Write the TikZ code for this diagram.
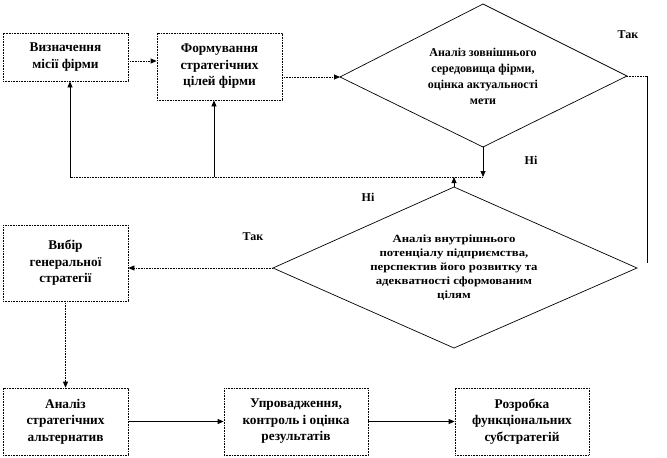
\documentclass[tikz,border=0pt]{standalone}
\usepackage{fontspec}
\setmainfont{Liberation Serif}
\newfontfamily\widefont[FakeStretch=1.16]{Liberation Serif}
\usetikzlibrary{arrows.meta}
\begin{document}
\begin{tikzpicture}[x=1pt,y=-1pt,
  box/.style={draw, line width=0.8pt, dash pattern=on 1pt off 0.6pt, align=center,
    font=\fontsize{13.3}{16.5}\selectfont\bfseries, inner sep=0pt},
  dtext/.style={align=center, inner sep=0pt},
  lbl/.style={font=\fontsize{12}{14}\selectfont\bfseries, inner sep=0pt},
  dotl/.style={line width=0.8pt, dash pattern=on 1pt off 0.6pt},
  soll/.style={line width=0.8pt},
  arr/.style={-{Triangle[length=6pt,width=5pt]}},
  dia/.style={line width=0.7pt}
]
\useasboundingbox (0,0) rectangle (667,458);
% boxes
\node[box, minimum width=125pt, minimum height=48pt] (b1) at (65.5,57) {Визначення\\місії фірми};
\node[box, minimum width=125pt, minimum height=67pt] (b2) at (219.5,66.5) {Формування\\стратегічних\\цілей фірми};
\node[box, minimum width=125pt, minimum height=76pt] (b3) at (65.5,263) {Вибір\\генеральної\\стратегії};
\node[box, minimum width=125pt, minimum height=67pt] (b4) at (65.5,421.5) {Аналіз\\стратегічних\\альтернатив};
\node[box, minimum width=144pt, minimum height=67pt] (b5) at (296,421.5) {Упровадження,\\контроль і оцінка\\результатів};
\node[box, minimum width=134pt, minimum height=67pt] (b6) at (522,421.5) {Розробка\\функціональних\\субстратегій};
% diamond 1
\coordinate (d1w) at (340,77);
\coordinate (d1n) at (483,4);
\coordinate (d1e) at (627,76);
\coordinate (d1s) at (483,147);
\draw[dia] (d1w) -- (d1n) -- (d1e) -- (d1s) -- cycle;
\node[dtext, font=\fontsize{12}{16}\selectfont\bfseries] (d1) at (483,76) {Аналіз зовнішнього\\середовища фірми,\\оцінка актуальності\\мети};
% diamond 2
\coordinate (d2w) at (273,268);
\coordinate (d2n) at (454,187);
\coordinate (d2e) at (637,268);
\coordinate (d2s) at (454,348);
\draw[dia] (d2w) -- (d2n) -- (d2e) -- (d2s) -- cycle;
\node[dtext, font=\widefont\fontsize{11}{14}\selectfont\bfseries] (d2) at (454,268) {Аналіз внутрішнього\\потенціалу підприємства,\\перспектив його розвитку та\\адекватності сформованим\\цілям};
% feedback line
\coordinate (fbR) at (483,177);
\coordinate (fbL) at (70,177);
\coordinate (fbM) at (214,177);
\coordinate (fbN) at (454,177);
\coordinate (rc1) at (647,76);
\coordinate (rc2) at (647,263);
% connectors
\draw[dotl, arr] ([yshift=-4pt]b1.east) -- ([yshift=-4pt]b1.east -| b2.west);
\draw[dotl, arr] (b2.east |- d1w) -- (d1w);
\draw[soll, arr] (d1s) -- (fbR);
\draw[dotl] (fbR) -- (fbL);
\draw[soll, arr] (fbL) -- (fbL |- b1.south);
\draw[soll, arr] (fbM) -- (fbM |- b2.south);
\draw[soll, arr] (d2n) -- (fbN);
\draw[dotl] (d1e) -- (rc1);
\draw[soll] (rc1) -- (rc2);
\draw[dotl, arr] (d2w) -- (d2w -| b3.east);
\draw[dotl, arr] (b3.south) -- (b4.north);
\draw[soll, arr] (b4.east) -- (b5.west);
\draw[soll, arr] (b5.east) -- (b6.west);
% labels
\node[lbl] (t1) at (628,35) {Так};
\node[lbl] (n1) at (531,160) {Ні};
\node[lbl] (n2) at (368,197) {Ні};
\node[lbl] (t2) at (253,237) {Так};
\end{tikzpicture}
\end{document}
